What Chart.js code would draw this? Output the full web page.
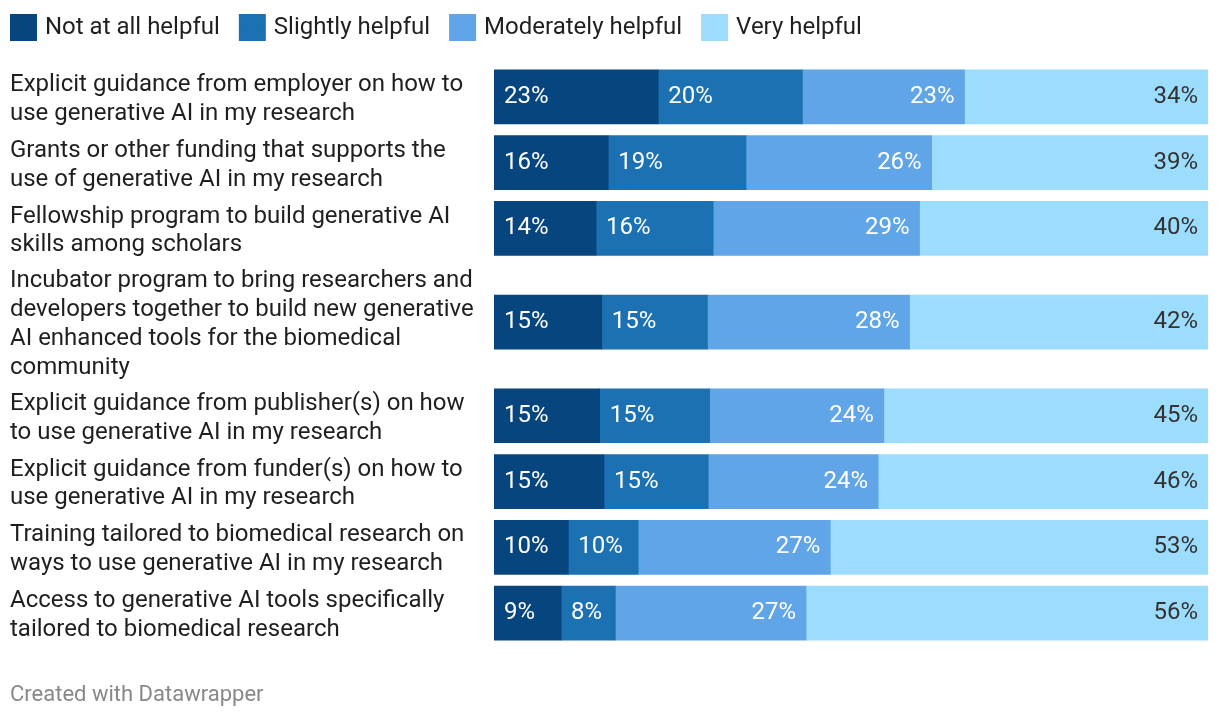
<!DOCTYPE html>
<html><head><meta charset="utf-8">
<script src="https://cdn.jsdelivr.net/npm/chart.js@4/dist/chart.umd.min.js"></script>
<style>html,body{margin:0;padding:0;background:#fff;} #wrap{width:1220px;height:720px;position:relative;}</style>
</head><body><div id="wrap"><canvas id="c"></canvas></div>
<script>
const categories = [
  ["Explicit guidance from employer on how to", "use generative AI in my research"],
  ["Grants or other funding that supports the", "use of generative AI in my research"],
  ["Fellowship program to build generative AI", "skills among scholars"],
  ["Incubator program to bring researchers and", "developers together to build new generative", "AI enhanced tools for the biomedical", "community"],
  ["Explicit guidance from publisher(s) on how", "to use generative AI in my research"],
  ["Explicit guidance from funder(s) on how to", "use generative AI in my research"],
  ["Training tailored to biomedical research on", "ways to use generative AI in my research"],
  ["Access to generative AI tools specifically", "tailored to biomedical research"]
];
const seriesNames = ["Not at all helpful", "Slightly helpful", "Moderately helpful", "Very helpful"];
const notAtAll   = [23.0, 16.0, 14.3, 15.1, 14.8, 15.4, 10.4, 9.4];
const slightly   = [20.2, 19.3, 16.4, 14.8, 15.4, 14.6, 9.8, 7.6];
const moderately = [22.7, 26.0, 28.9, 28.3, 24.4, 23.8, 26.9, 26.7];
const very       = [34.1, 38.7, 40.4, 41.8, 45.4, 46.2, 52.9, 56.3];
const footerText = "Created with Datawrapper";

const series = [notAtAll, slightly, moderately, very];
const colors = ["#07457e", "#1b71b1", "#60a5e8", "#9cdcfd"];
const labelColors = ["#ffffff", "#ffffff", "#ffffff", "#333333"];
const FONT = "Roboto";
Chart.defaults.font.family = FONT;

// row slots derived from the number of label lines
const slots = categories.map(l => 66 + (l.length - 2) * 28);
let acc = 0;
const rowPos = slots.map(s => { const c = acc + s / 2; acc += s; return c; });
const total = acc;

const legendFix = {
  id: 'legendFix',
  beforeUpdate(chart) {
    const lg = chart.legend;
    if (lg && !lg._patched) {
      const f = lg.fit;
      lg.fit = function () { f.call(this); this.height = 64; };
      lg._patched = true;
    }
  },
  afterLayout(chart) {
    if (chart.legend) { chart.legend.left -= 19; chart.legend.top -= 7.5; }
  }
};

const valueLabels = {
  id: 'valueLabels',
  afterDatasetsDraw(chart) {
    const ctx = chart.ctx;
    ctx.save();
    ctx.font = "24px " + FONT;
    ctx.textBaseline = 'middle';
    chart.data.datasets.forEach((ds, k) => {
      const meta = chart.getDatasetMeta(k);
      meta.data.forEach((bar, i) => {
        const txt = Math.round(series[k][i]) + '%';
        const p = bar.getProps(['x', 'base', 'y'], true);
        ctx.fillStyle = labelColors[k];
        if (k < 2) { ctx.textAlign = 'left'; ctx.fillText(txt, p.base + 10, p.y); }
        else { ctx.textAlign = 'right'; ctx.fillText(txt, p.x - 10, p.y); }
      });
    });
    ctx.restore();
  }
};

new Chart(document.getElementById('c'), {
  type: 'bar',
  data: {
    datasets: series.map((vals, k) => ({
      label: seriesNames[k],
      data: vals.map((v, i) => ({ x: v, y: rowPos[i] })),
      backgroundColor: colors[k],
      borderWidth: 0,
      barThickness: 54
    }))
  },
  options: {
    indexAxis: 'y',
    responsive: true,
    maintainAspectRatio: false,
    animation: false,
    layout: { padding: { left: 10, right: 12, top: 0, bottom: 0 } },
    scales: {
      x: { stacked: true, min: 0, max: 100, display: false },
      y: {
        type: 'linear', stacked: true, reverse: true, min: 0, max: total, offset: false,
        grid: { display: false, drawTicks: false },
        border: { display: false },
        afterBuildTicks: s => { s.ticks = rowPos.map(v => ({ value: v })); },
        afterFit: s => { s.width = 484; },
        ticks: {
          crossAlign: 'far', autoSkip: false, labelOffset: 2.5,
          font: { family: FONT, size: 24, lineHeight: 1.2 },
          color: '#1f1f1f',
          callback: (v) => { const i = rowPos.indexOf(v); return i >= 0 ? categories[i] : ''; }
        }
      }
    },
    plugins: {
      legend: {
        position: 'top', align: 'start',
        labels: {
          boxWidth: 19, boxHeight: 19, padding: 23,
          font: { family: FONT, size: 24 }, color: '#1f1f1f',
          generateLabels: chart => chart.data.datasets.map((d, i) => ({
            text: d.label, fillStyle: d.backgroundColor, strokeStyle: d.backgroundColor,
            lineWidth: 8, hidden: false, datasetIndex: i, fontColor: '#1f1f1f'
          }))
        }
      },
      subtitle: {
        display: true, position: 'bottom', align: 'start', text: footerText,
        color: '#888888', font: { family: FONT, size: 22, weight: 'normal' },
        padding: { top: 36, bottom: 11.6 }
      },
      tooltip: { enabled: false }
    }
  },
  plugins: [legendFix, valueLabels]
});
</script>
</body></html>
